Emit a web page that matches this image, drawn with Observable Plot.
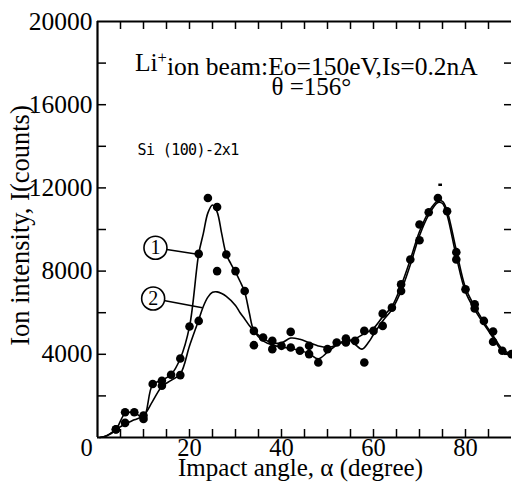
<!DOCTYPE html>
<html>
<head>
<meta charset="utf-8">
<script src="https://cdn.jsdelivr.net/npm/d3@7"></script>
<script src="https://cdn.jsdelivr.net/npm/@observablehq/plot@0.6"></script>
<style>
  html, body { margin: 0; padding: 0; background: #fff; }
  svg { display: block; }
</style>
</head>
<body>
<div id="chart"></div>
<script>
// ---- data ----
const xTickLabels = [20, 40, 60, 80];
const xMinorTicks = [5, 10, 15, 20, 25, 30, 35, 40, 45, 50, 55, 60, 65, 70, 75, 80, 85];
const yTickLabels = [4000, 8000, 12000, 16000, 20000];
const yMinorTicks = [2000, 4000, 6000, 8000, 10000, 12000, 14000, 16000, 18000];

// measured points (angle, counts)
const points1 = [
  [4,400],[6,1213],[8,1213],[10,1054],[12,2572],[14,2730],[16,3018],[18,3800],
  [20,5333],[22,8830],[24,11512],[26,11080],[28,8800],[30,8000],[32,7042],
  [34,5126],[36,4806],[38,4647],[40,4407],[42,4326],[44,4168],[46,4009],[48,3608],
  [50,4248],[52,4567],[54,4567],[56,4647],[58,5126],[60,5126],[62,5955],[64,6243],
  [66,7361],[68,8560],[70,10237],[72,10826],[74,11512],[76,10874],[78,8910],
  [80,7123],[82,6405],[84,5605],[86,5093],[88,4168],[90,4009]
];
const points2 = [
  [4,383],[6,703],[10,895],[14,2490],[18,3000],[22,5605],[26,8000],[34,4439],
  [38,4248],[42,5078],[46,4407],[54,4760],[58,3608],[62,5365],[66,7042],
  [70,9485],[78,8560],[82,6200],[86,4600]
];
const strayMark = [{x1: 74.2, x2: 75.0, y: 12150}];

// fitted curves ① and ②
const curve1 = [
  [0.5,0],[2,80],[4,380],[6,1150],[8,1200],[10,950],[12,2550],[14,2750],[16,3030],
  [18,3800],[20,5330],[22,8830],[23,9800],[24,10800],[25,11180],[26,10850],[27,9800],
  [28,8800],[29,8350],[30,7950],[31,7500],[32,7000],[33,6000],[34,5130],[36,4650],
  [38,4450],[40,4350],[42,4280],[44,4180],[46,4030],[48,3780],[50,4100],[52,4450],
  [54,4620],[56,4750],[58,5000],[60,5250],[62,5800],[64,6300],[66,7300],[68,8550],
  [70,9900],[72,10850],[74,11380],[75,11350],[76,10900],[78,9000],[80,7200],
  [82,6300],[84,5550],[86,4900],[88,4250],[90,4000]
];
const curve2 = [
  [0.5,0],[2,80],[4,380],[6,650],[8,850],[10,1050],[12,1750],[14,2450],[16,2750],
  [18,3050],[20,4400],[22,5650],[23,6300],[24,6750],[25,6980],[26,7000],[27,6920],
  [28,6780],[30,6350],[31,6000],[32,5700],[33,5380],[34,5130],[36,4750],[38,4550],
  [40,4550],[42,4780],[44,4720],[46,4560],[48,4400],[50,4330],[52,4450],[54,4700],
  [55,4650],[56,4480],[57.5,4250],[59,4600],[60,4950],[62,5600],[64,6150],[66,7050],
  [68,8300],[70,9700],[72,10700],[74,11300],[75,11250],[76,10700],[78,8700],
  [80,7000],[82,6150],[84,5450],[86,4800],[88,4150],[90,3950]
];

// circled curve labels and their leaders
const curveLabels = [
  {n: "1", x: 12.6, y: 9120, tx: 22.1, ty: 8800, weight: "normal"},
  {n: "2", x: 12.1, y: 6680, tx: 22.8, ty: 6240, weight: "bold"}
];

const titleLine1 = "Li+ion beam:Eo=150eV,Is=0.2nA";
const titleLine2 = "θ =156°";
const sampleLabel = "Si (100)-2x1";
const xLabel = "Impact angle, α (degree)";
const yLabel = "Ion intensity, I(counts)";

const W = 512, H = 489;
const mL = 97, mR = 1, mT = 21, mB = 52;
const pw = W - mL - mR, ph = H - mT - mB;

const plot = Plot.plot({
  width: W, height: H,
  marginLeft: mL, marginRight: mR, marginTop: mT, marginBottom: mB,
  style: {background: "#fff", fontFamily: "'Liberation Serif', 'Times New Roman', serif", color: "#000"},
  x: {domain: [0, 90], axis: null},
  y: {domain: [0, 20000], axis: null},
  marks: [
    // frame (left, bottom, top)
    Plot.ruleX([0], {strokeWidth: 2.2}),
    Plot.ruleY([0], {strokeWidth: 2.2}),
    Plot.ruleY([20000], {strokeWidth: 2.2}),
    // inward ticks
    Plot.tickY(yMinorTicks, {y: d => d, insetRight: pw - 9, strokeWidth: 1.5}),
    Plot.tickY(yMinorTicks, {y: d => d, insetLeft: pw - 7, strokeWidth: 1.5}),
    Plot.tickX(xMinorTicks, {x: d => d, insetTop: ph - 8, strokeWidth: 1.5}),
    Plot.tickX(xMinorTicks, {x: d => d, insetBottom: ph - 8, strokeWidth: 1.5}),
    // tick labels
    Plot.text(xTickLabels, {x: d => d, text: d => String(d), frameAnchor: "bottom", lineAnchor: "top", dy: 1, fontSize: 24.5}),
    Plot.text(["0"], {x: 0, y: 0, text: d => d, lineAnchor: "top", dy: 1, dx: -11, fontSize: 24.5}),
    Plot.text(yTickLabels, {y: d => d, text: d => String(d), frameAnchor: "left", textAnchor: "end", dx: -5, fontSize: 25.5}),
    // axis titles
    Plot.text([xLabel], {text: d => d, frameAnchor: "bottom", textAnchor: "middle", dx: -4, dy: 38.5, fontSize: 25}),
    Plot.text([yLabel], {text: d => d, frameAnchor: "left", textAnchor: "middle", rotate: -90, dx: -77, dy: -4, fontSize: 26.5}),
    // curves
    Plot.line(curve1, {x: d => d[0], y: d => d[1], curve: "catmull-rom", strokeWidth: 1.6}),
    Plot.line(curve2, {x: d => d[0], y: d => d[1], curve: "catmull-rom", strokeWidth: 1.6}),
    // points
    Plot.dot(points1, {x: d => d[0], y: d => d[1], r: 4.3, fill: "#000"}),
    Plot.dot(points2, {x: d => d[0], y: d => d[1], r: 4.3, fill: "#000"}),
    Plot.ruleY(strayMark, {y: "y", x1: "x1", x2: "x2", strokeWidth: 2.5}),
    // circled labels
    Plot.link(curveLabels, {x1: "x", y1: "y", x2: "tx", y2: "ty", strokeWidth: 1.5}),
    Plot.dot(curveLabels, {x: "x", y: "y", r: 11.5, fill: "#fff", stroke: "#000", strokeWidth: 1.6}),
    Plot.text(curveLabels, {x: "x", y: "y", text: "n", fontSize: 20, fontWeight: "weight"}),
    // annotations
    Plot.text([titleLine1], {x: 45.4, y: 18030, text: d => d, fontSize: 25.5}),
    Plot.text([titleLine2], {x: 46.5, y: 16870, text: d => d, fontSize: 25}),
    Plot.text([sampleLabel], {x: 8.7, y: 13800, text: d => d, textAnchor: "start", fontSize: 15,
      fontFamily: "'DejaVu Sans Mono', monospace"})
  ]
});

// superscript "+" in the title; tighter spacing for the sample label
d3.select(plot).selectAll("text").each(function() {
  if (this.textContent === titleLine1) {
    const t = d3.select(this);
    t.text(null);
    t.append("tspan").text("Li");
    t.append("tspan").attr("dy", "-0.45em").attr("font-size", "0.65em").text("+");
    t.append("tspan").attr("dy", "0.45em").text("ion beam:Eo=150eV,Is=0.2nA");
  }
  if (this.textContent === sampleLabel) {
    this.style.letterSpacing = "-0.6px";
  }
});

document.getElementById("chart").appendChild(plot);
</script>
</body>
</html>
